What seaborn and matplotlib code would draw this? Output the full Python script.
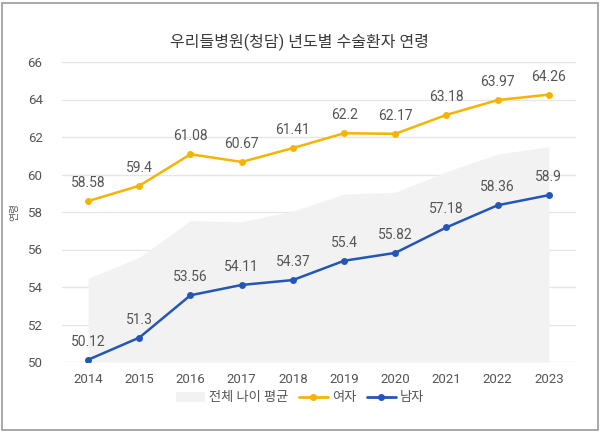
import matplotlib
matplotlib.use("Agg")
import matplotlib.pyplot as plt
import seaborn as sns
import pandas as pd
from matplotlib.patches import Rectangle
from matplotlib.lines import Line2D
from matplotlib.patches import Patch

years = [2014, 2015, 2016, 2017, 2018, 2019, 2020, 2021, 2022, 2023]
avg_all = [54.46, 55.58, 57.54, 57.48, 58.05, 58.96, 59.05, 60.15, 61.09, 61.48]
female = [58.58, 59.4, 61.08, 60.67, 61.41, 62.2, 62.17, 63.18, 63.97, 64.26]
male = [50.12, 51.3, 53.56, 54.11, 54.37, 55.4, 55.82, 57.18, 58.36, 58.9]
yticks = [50, 52, 54, 56, 58, 60, 62, 64, 66]

title = "우리들병원(청담) 년도별 수술환자 연령"
ylabel = "연령"
labels = ["전체 나이 평균", "여자", "남자"]

sns.set_theme(style="white")
plt.rcParams['font.family'] = ['Roboto', 'Noto Sans CJK KR', 'DejaVu Sans']

df = pd.DataFrame({"year": years, "avg": avg_all, "female": female, "male": male})

fig = plt.figure(figsize=(6, 4.33), dpi=100)
ax = fig.add_axes([62/600, 71/433, 514/600, 300/433])

c_area = "#F2F2F2"
c_f = "#F5B400"
c_m = "#2356B5"
txt = "#555555"

ax.fill_between(df["year"], 50, df["avg"], color=c_area, lw=0, zorder=1)
sns.lineplot(data=df, x="year", y="female", ax=ax, color=c_f, lw=1.8,
             marker="o", markersize=5, markeredgewidth=0, zorder=3)
sns.lineplot(data=df, x="year", y="male", ax=ax, color=c_m, lw=1.8,
             marker="o", markersize=5, markeredgewidth=0, zorder=3)

for x, v in zip(years, female):
    ax.annotate(f"{v:g}", (x, v), xytext=(0, 8), textcoords="offset points",
                ha="center", va="bottom", fontsize=10, color=txt)
for x, v in zip(years, male):
    ax.annotate(f"{v:g}", (x, v), xytext=(0, 8), textcoords="offset points",
                ha="center", va="bottom", fontsize=10, color=txt)

ax.set_xlim(2014 - 0.51, 2023 + 0.53)
ax.set_ylim(50, 66)
ax.set_yticks(yticks)
ax.set_xticks(years)
ax.set_xticklabels([str(y) for y in years])
ax.tick_params(axis="both", labelsize=9.5, colors=txt, length=0)
ax.tick_params(axis="y", pad=14)
ax.tick_params(axis="x", pad=8)
ax.grid(axis="y", color="#E6E6E6", lw=1)
ax.set_axisbelow(True)
for s in ax.spines.values():
    s.set_visible(False)
ax.set_xlabel("")
ax.set_ylabel(ylabel, fontsize=7, color=txt, labelpad=6)

fig.text(0.5, 1 - 42/433, title, ha="center", va="center", fontsize=11.5, color="#3a3a3a")

handles = [Patch(facecolor=c_area, edgecolor="none"),
           Line2D([0], [0], color=c_f, lw=2, marker="o", markersize=4),
           Line2D([0], [0], color=c_m, lw=2, marker="o", markersize=4)]
fig.legend(handles, labels, loc="center", bbox_to_anchor=(0.5, 1 - 398/433), ncol=3,
           frameon=False, fontsize=9.5, labelcolor=txt, handlelength=2.2,
           handletextpad=0.3, columnspacing=0.8)

fig.patches.append(Rectangle((0.004, 0.006), 0.992, 0.988, transform=fig.transFigure,
                             fill=False, edgecolor="#999999", lw=1.2))

fig.savefig("out.png", dpi=100, facecolor="white")
